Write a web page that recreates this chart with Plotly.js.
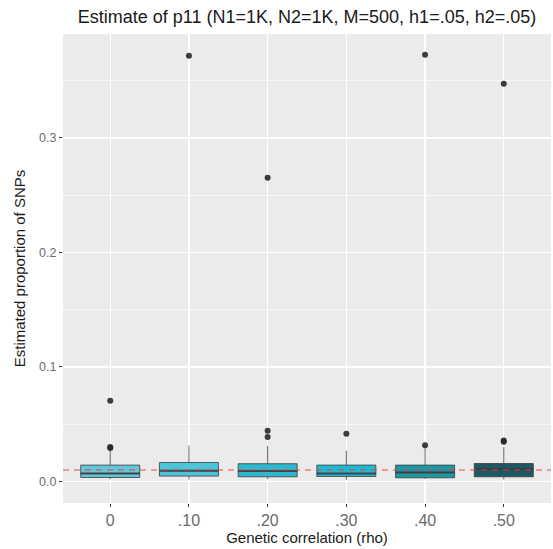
<!DOCTYPE html>
<html>
<head>
<meta charset="utf-8">
<script src="https://cdn.plot.ly/plotly-3.0.1.min.js"></script>
<style>html,body{margin:0;padding:0;background:#fff;}#chart{width:553px;height:549px;}</style>
</head>
<body>
<div id="chart"></div>
<script>
const categories = ['0', '.10', '.20', '.30', '.40', '.50'];
const q1Values = [0.0035, 0.0047, 0.0041, 0.0044, 0.0032, 0.0041];
const medianValues = [0.0070, 0.0093, 0.0091, 0.0070, 0.0079, 0.0108];
const q3Values = [0.0143, 0.0166, 0.0155, 0.0143, 0.0143, 0.0157];
const lowerFence = [0.0021, 0.0017, 0.0021, 0.0015, 0.0021, 0.0017];
const upperFence = [0.0286, 0.0314, 0.0312, 0.0268, 0.0292, 0.0300];
const outlierCategory = [0, 0, 0, 1, 2, 2, 2, 3, 4, 4, 5, 5, 5];
const outlierValues = [0.0706, 0.0301, 0.0293, 0.3718, 0.2652, 0.0444, 0.0389, 0.0417, 0.3727, 0.0316, 0.3473, 0.0358, 0.0347];
const trueValue = 0.01;
const boxColors = ['#64C6D9', '#4CC4DA', '#2EB8D0', '#22B8D4', '#1C97A6', '#1E5864'];

const traces = [];
categories.forEach((c, i) => {
  traces.push({
    type: 'box', x: [i], q1: [q1Values[i]], median: [medianValues[i]], q3: [q3Values[i]],
    lowerfence: [lowerFence[i]], upperfence: [upperFence[i]],
    width: 0.75, fillcolor: boxColors[i], whiskerwidth: 0, boxpoints: false,
    line: {color: 'rgba(60,60,60,0.8)', width: 1}, showlegend: false, hoverinfo: 'skip'
  });
});
categories.forEach((c, i) => {
  traces.push({
    type: 'scatter', mode: 'lines', x: [i - 0.375, i + 0.375], y: [medianValues[i], medianValues[i]],
    line: {color: 'rgba(60,60,60,0.85)', width: 2}, showlegend: false, hoverinfo: 'skip'
  });
});
traces.push({
  type: 'scatter', mode: 'markers', x: outlierCategory, y: outlierValues,
  marker: {color: 'rgba(40,40,40,0.9)', size: 6}, showlegend: false, hoverinfo: 'skip'
});

const layout = {
  width: 553, height: 549,
  margin: {l: 63, r: 2, t: 34, b: 46},
  paper_bgcolor: '#ffffff', plot_bgcolor: '#EBEBEB',
  font: {family: 'Liberation Sans, Arial, sans-serif'},
  title: {text: 'Estimate of p11 (N1=1K, N2=1K, M=500, h1=.05, h2=.05)',
          font: {size: 18, color: '#1a1a1a'}, x: 0.5, xref: 'paper', xanchor: 'center', y: 0.969, yanchor: 'middle'},
  xaxis: {
    range: [-0.6, 5.6], tickvals: categories.map((c, i) => i), ticktext: categories,
    showgrid: true, gridcolor: '#ffffff', gridwidth: 1.3, zeroline: false,
    ticks: 'outside', ticklen: 3, tickcolor: '#333333', tickwidth: 1,
    tickfont: {size: 16, color: '#6b6b6b'}, showline: false,
    title: {text: 'Genetic correlation (rho)', font: {size: 15, color: '#1a1a1a'}, standoff: 3}
  },
  yaxis: {
    range: [-0.0188, 0.3908], tickvals: [0, 0.1, 0.2, 0.3], ticktext: ['0.0', '0.1', '0.2', '0.3'],
    showgrid: true, gridcolor: '#ffffff', gridwidth: 1.3, zeroline: false,
    ticks: 'outside', ticklen: 3, tickcolor: '#333333', tickwidth: 1,
    tickfont: {size: 12.5, color: '#6b6b6b'}, showline: false,
    minor: {tickvals: [0.05, 0.15, 0.25, 0.35], showgrid: true, gridcolor: '#ffffff', gridwidth: 0.6, ticks: ''},
    title: {text: 'Estimated proportion of SNPs', font: {size: 15, color: '#1a1a1a'}, standoff: 9}
  },
  shapes: [{type: 'line', xref: 'paper', x0: 0, x1: 1, yref: 'y', y0: trueValue, y1: trueValue,
            line: {color: 'rgba(240,55,50,0.9)', width: 1.2, dash: '6px,5px'}, layer: 'above'}]
};
Plotly.newPlot('chart', traces, layout, {displayModeBar: false, staticPlot: true});
</script>
</body>
</html>
